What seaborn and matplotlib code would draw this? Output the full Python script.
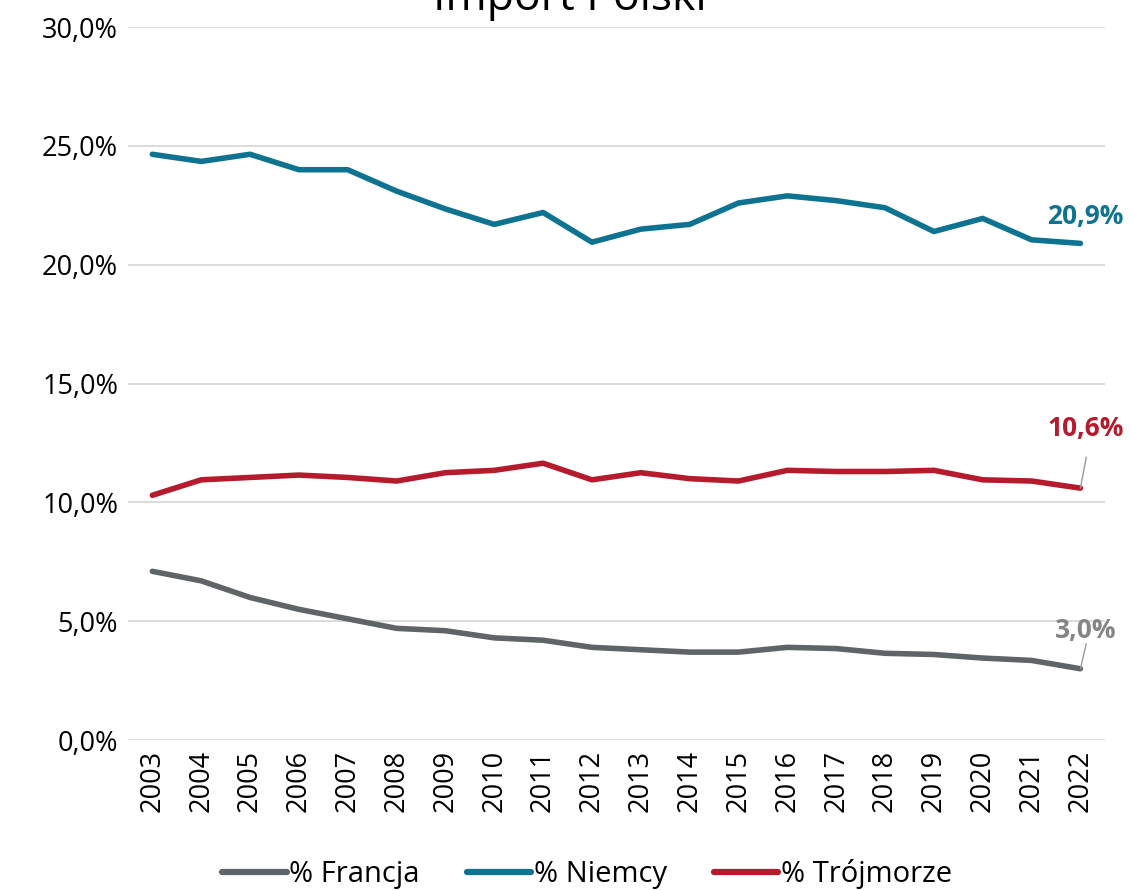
import pandas as pd
import matplotlib.pyplot as plt
import seaborn as sns

# Data (share of Polish imports, %)
years = list(range(2003, 2023))
francja = [7.1, 6.7, 6.0, 5.5, 5.1, 4.7, 4.6, 4.3, 4.2, 3.9,
           3.8, 3.7, 3.7, 3.9, 3.85, 3.65, 3.6, 3.45, 3.35, 3.0]
niemcy = [24.65, 24.35, 24.65, 24.0, 24.0, 23.1, 22.35, 21.7, 22.2, 20.95,
          21.5, 21.7, 22.6, 22.9, 22.7, 22.4, 21.4, 21.95, 21.05, 20.9]
trojmorze = [10.3, 10.95, 11.05, 11.15, 11.05, 10.9, 11.25, 11.35, 11.65, 10.95,
             11.25, 11.0, 10.9, 11.35, 11.3, 11.3, 11.35, 10.95, 10.9, 10.6]
series_names = ["% Francja", "% Niemcy", "% Trójmorze"]
colors = ["#5f6467", "#0e7391", "#b51a2d"]
label_colors = ["#858585", "#0e7391", "#b51a2d"]

df = pd.DataFrame({"rok": years, series_names[0]: francja,
                   series_names[1]: niemcy, series_names[2]: trojmorze})
long = df.melt(id_vars="rok", var_name="seria", value_name="udzial")

sns.set_style("white")
plt.rcParams['font.family'] = ['Open Sans', 'DejaVu Sans']
plt.rcParams['text.color'] = 'black'
plt.rcParams['xtick.color'] = 'black'
plt.rcParams['ytick.color'] = 'black'

fig = plt.figure(figsize=(11.32, 8.9), dpi=100)
ax = fig.add_axes([0.113, 0.1685, 0.863, 0.801])

sns.lineplot(data=long, x="rok", y="udzial", hue="seria", palette=colors,
             hue_order=series_names, linewidth=4.0, ax=ax,
             solid_capstyle="round", solid_joinstyle="round")

ax.set_xlim(2002.5, 2022.5)
ax.set_ylim(0, 30)
ax.set_yticks(range(0, 31, 5))
ax.set_yticklabels([f"{v:.1f}%".replace(".", ",") for v in range(0, 31, 5)], fontsize=19.5)
ax.set_xticks(years)
ax.set_xticklabels([str(y) for y in years], rotation=90, fontsize=19.5)
ax.tick_params(axis="both", length=0, pad=7)
ax.yaxis.grid(True, color="#d9d9d9", linewidth=1.3)
ax.set_axisbelow(True)
for s in ax.spines.values():
    s.set_visible(False)
ax.set_xlabel("")
ax.set_ylabel("")

# title sits partly above the canvas, as in the original
fig.text(0.503, 0.9885, "Import Polski", ha="center", va="baseline", fontsize=32)

# end-of-line data labels
last = [francja[-1], niemcy[-1], trojmorze[-1]]
offsets = [1.6, 1.15, 2.5]
for val, off, col in zip(last, offsets, label_colors):
    txt = f"{val:.1f}%".replace(".", ",")
    ax.text(2022.1, val + off, txt, color=col, fontsize=19, fontweight="bold",
            ha="center", va="center")
for val, off in [(francja[-1], 1.05), (trojmorze[-1], 1.3)]:
    ax.plot([2022, 2022.12], [val, val + off], color="#9a9a9a", linewidth=1)

leg = ax.legend(loc="center", bbox_to_anchor=(0.47, -0.188), ncol=3,
                frameon=False, fontsize=21, handlelength=2.2, handletextpad=0.1,
                columnspacing=1.6)
for h in leg.get_lines():
    h.set_linewidth(4.5)
    h.set_solid_capstyle("round")

fig.savefig("out.png", dpi=100)
